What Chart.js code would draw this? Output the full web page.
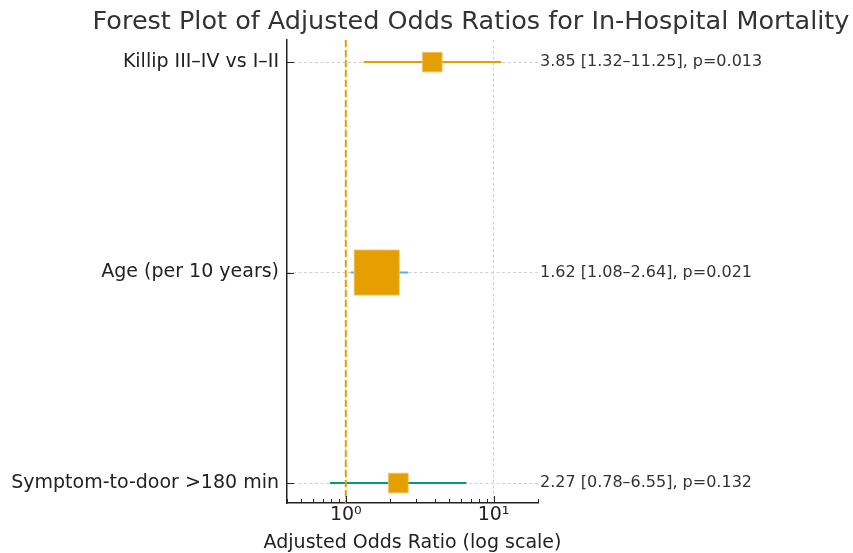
<!DOCTYPE html>
<html><head><meta charset="utf-8">
<script src="https://cdn.jsdelivr.net/npm/chart.js@4/dist/chart.umd.min.js"></script>
<style>html,body{margin:0;padding:0;background:#fff}</style>
</head><body>
<canvas id="c" width="853" height="553"></canvas>
<script>
// ---- data ----
const categories = ['Killip III–IV vs I–II', 'Age (per 10 years)', 'Symptom-to-door >180 min'];
const oddsRatios = [3.85, 1.62, 2.27];
const ciLower = [1.32, 1.08, 0.78];
const ciUpper = [11.25, 2.64, 6.55];
const pValues = ['0.013', '0.021', '0.132'];
const xMajorTicks = [1, 10];
const xTickLabels = ['10⁰', '10¹'];
const xMinorTicks = [0.4, 0.5, 0.6, 0.7, 0.8, 0.9, 2, 3, 4, 5, 6, 7, 8, 9, 20];
const referenceOR = 1;
const chartTitle = 'Forest Plot of Adjusted Odds Ratios for In-Hospital Mortality';
const xAxisTitle = 'Adjusted Odds Ratio (log scale)';

// ---- styles ----
const ciColors = ['#E69F00', '#56B4E9', '#009E73'];
const markerSides = [19.5, 45, 19.5];
const markerColor = '#E69F00';
const FONT = "'DejaVu Sans', sans-serif";

Chart.defaults.font.family = FONT;

const datasets = [];
datasets.push({
  type: 'scatter',
  data: oddsRatios.map((v, i) => ({x: v, y: i})),
  pointStyle: 'rect',
  pointRadius: markerSides.map(s => s / Math.SQRT2),
  pointHoverRadius: markerSides.map(s => s / Math.SQRT2),
  backgroundColor: markerColor,
  borderColor: 'rgba(240,190,90,0.9)',
  borderWidth: 1
});
categories.forEach((c, i) => {
  datasets.push({
    type: 'line',
    data: [{x: ciLower[i], y: i}, {x: ciUpper[i], y: i}],
    borderColor: ciColors[i],
    borderWidth: 2,
    pointRadius: 0,
    fill: false
  });
});

const annotPlugin = {
  id: 'annot',
  afterDraw(chart) {
    const ctx = chart.ctx;
    const xs = chart.scales.x, ys = chart.scales.y;
    const area = chart.chartArea;
    ctx.save();
    // reference line
    const rx = xs.getPixelForValue(referenceOR);
    ctx.strokeStyle = '#E69F00';
    ctx.lineWidth = 2;
    ctx.setLineDash([7, 3]);
    ctx.beginPath();
    ctx.moveTo(rx, area.top);
    ctx.lineTo(rx, area.bottom);
    ctx.stroke();
    ctx.setLineDash([]);
    // ticks (inward)
    ctx.strokeStyle = '#222';
    ctx.lineWidth = 1;
    xMinorTicks.forEach(v => {
      const px = Math.round(xs.getPixelForValue(v)) + 0.5;
      ctx.beginPath();
      ctx.moveTo(px, area.bottom);
      ctx.lineTo(px, area.bottom - 4);
      ctx.stroke();
    });
    xMajorTicks.forEach(v => {
      const px = Math.round(xs.getPixelForValue(v)) + 0.5;
      ctx.beginPath();
      ctx.moveTo(px, area.bottom);
      ctx.lineTo(px, area.bottom - 7);
      ctx.stroke();
    });
    categories.forEach((c, i) => {
      const py = Math.round(ys.getPixelForValue(i)) + 0.5;
      ctx.beginPath();
      ctx.moveTo(area.left, py);
      ctx.lineTo(area.left + 7, py);
      ctx.stroke();
    });
    // annotations
    ctx.fillStyle = '#333';
    ctx.font = '16px ' + FONT;
    ctx.textAlign = 'left';
    ctx.textBaseline = 'middle';
    categories.forEach((c, i) => {
      const txt = oddsRatios[i].toFixed(2) + ' [' + ciLower[i].toFixed(2) + '–' + ciUpper[i].toFixed(2) + '], p=' + pValues[i];
      ctx.fillText(txt, area.right + 2, ys.getPixelForValue(i));
    });
    // x axis title
    ctx.fillStyle = '#222';
    ctx.font = '19px ' + FONT;
    ctx.textAlign = 'center';
    ctx.textBaseline = 'middle';
    ctx.fillText(xAxisTitle, (area.left + area.right) / 2, 543);
    // title
    ctx.fillStyle = '#333';
    ctx.font = '25.5px ' + FONT;
    ctx.textAlign = 'center';
    ctx.textBaseline = 'middle';
    ctx.fillText(chartTitle, 471, 22);
    ctx.restore();
  }
};

new Chart(document.getElementById('c'), {
  data: {datasets},
  options: {
    responsive: false,
    devicePixelRatio: 1,
    animation: false,
    layout: {padding: {top: 40, right: 315, bottom: 0, left: 0}},
    plugins: {legend: {display: false}, tooltip: {enabled: false}, title: {display: false}},
    scales: {
      x: {
        type: 'logarithmic',
        min: 0.4,
        max: 20,
        afterBuildTicks: s => { s.ticks = xMajorTicks.map(v => ({value: v})); },
        afterFit: s => { s.height = 50; },
        ticks: {
          color: '#222',
          font: {size: 19},
          padding: 1,
          maxRotation: 0,
          autoSkip: false,
          callback: (v) => { const k = xMajorTicks.indexOf(v); return k >= 0 ? xTickLabels[k] : ''; }
        },
        grid: {color: '#d0d0d0', lineWidth: 1, drawTicks: false},
        border: {display: true, color: '#222', width: 1.5, dash: [3, 2.5]},
        title: {display: false}
      },
      y: {
        type: 'linear',
        reverse: true,
        min: -0.105,
        max: 2.095,
        afterBuildTicks: s => { s.ticks = categories.map((c, i) => ({value: i})); },
        afterFit: s => { s.width = 287; },
        ticks: {
          color: '#222',
          font: {size: 19},
          padding: 8,
          autoSkip: false,
          callback: (v) => categories[v] !== undefined ? categories[v] : ''
        },
        grid: {color: '#d0d0d0', lineWidth: 1, drawTicks: false},
        border: {display: true, color: '#222', width: 1.5, dash: [3, 2.5]}
      }
    }
  },
  plugins: [annotPlugin]
});
</script>
</body></html>
